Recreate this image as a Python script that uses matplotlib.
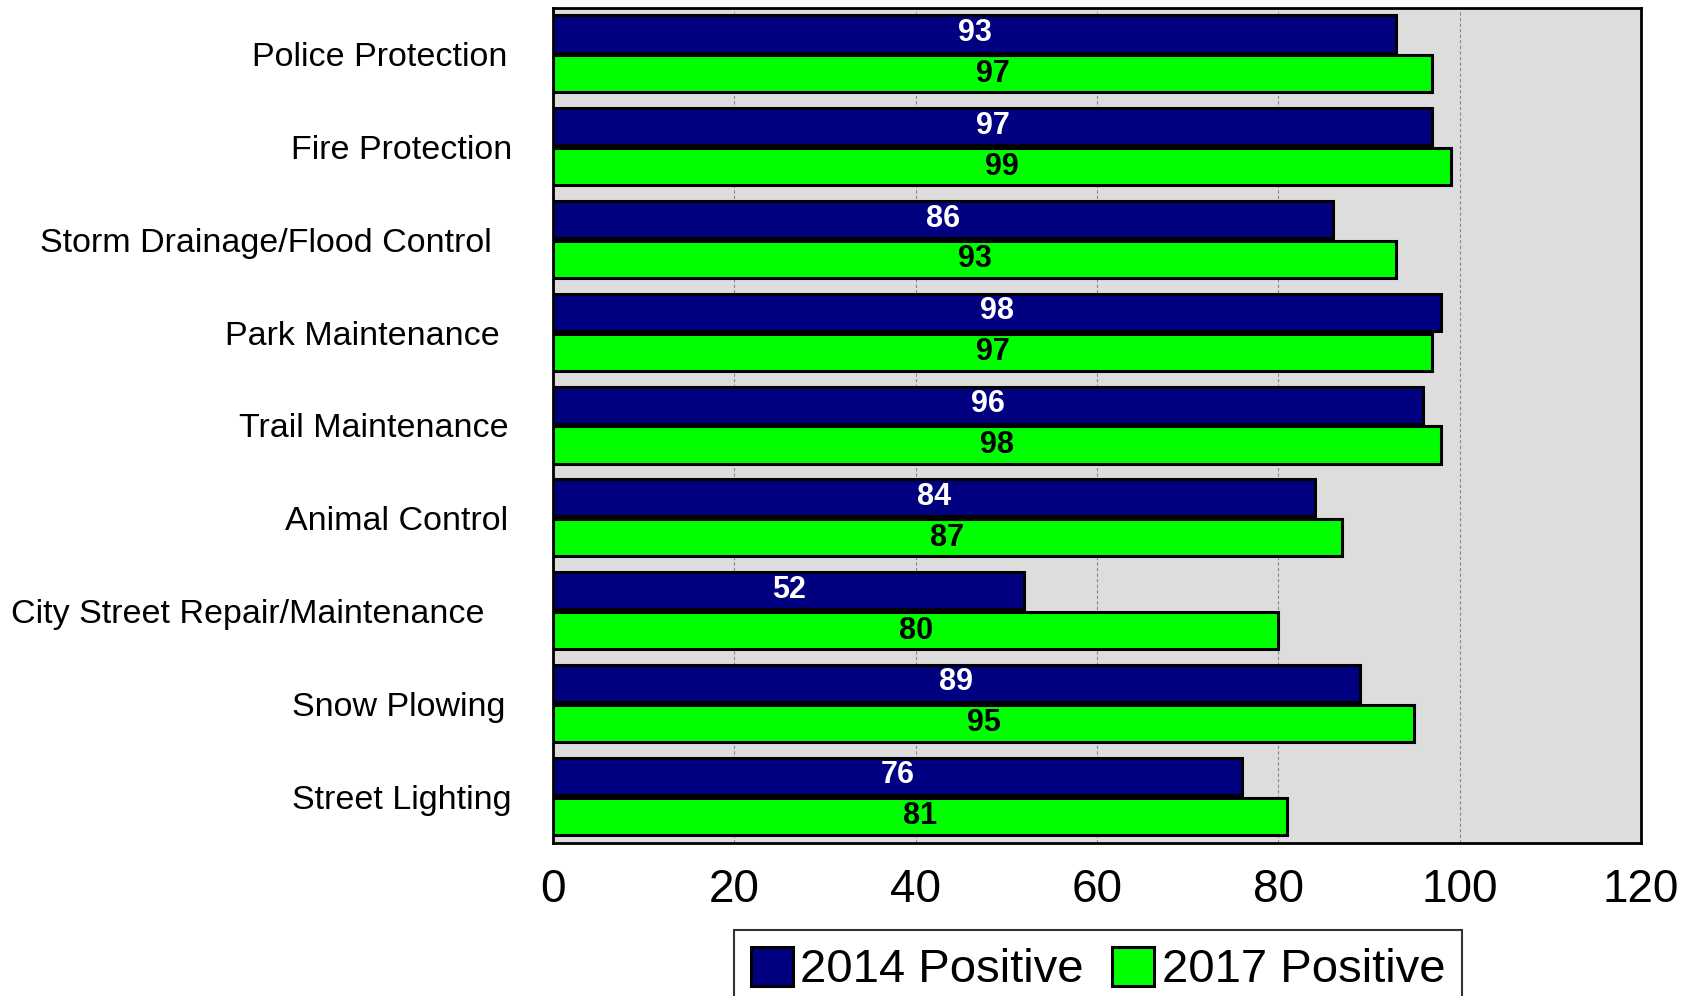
import matplotlib
matplotlib.use("Agg")
import matplotlib.pyplot as plt
import matplotlib.transforms as mtransforms
import numpy as np

categories = ["Police Protection", "Fire Protection", "Storm Drainage/Flood Control",
              "Park Maintenance", "Trail Maintenance", "Animal Control",
              "City Street Repair/Maintenance", "Snow Plowing", "Street Lighting"]
pos_2014 = [93, 97, 86, 98, 96, 84, 52, 89, 76]
pos_2017 = [97, 99, 93, 97, 98, 87, 80, 95, 81]
xticks = [0, 20, 40, 60, 80, 100, 120]
# the original labels are not quite right-aligned (points, +right)
label_shift = [1, 5, -10, -4, 2, 2, -15, 0, 4]

navy = "#000080"
green = "#00FF00"
font = ["Liberation Sans", "DejaVu Sans"]

fig = plt.figure(figsize=(17.01, 9.96), dpi=100)
ax = fig.add_axes([0.3251, 0.1536, 0.6396, 0.8384])
ax.set_facecolor("#DDDDDD")

y = np.arange(len(categories))
h = 0.40
b1 = ax.barh(y - 0.22, pos_2014, height=h, color=navy, edgecolor="black", linewidth=2.2, label="2014 Positive", zorder=3)
b2 = ax.barh(y + 0.21, pos_2017, height=h, color=green, edgecolor="black", linewidth=2.2, label="2017 Positive", zorder=3)

# value labels in the middle of each bar
for yy, v in zip(y, pos_2014):
    ax.text(v / 2, yy - 0.23, str(v), ha="center", va="center", color="white",
            fontsize=22, fontweight="bold", family=font, zorder=4)
for yy, v in zip(y, pos_2017):
    ax.text(v / 2, yy + 0.21, str(v), ha="center", va="center", color="black",
            fontsize=22, fontweight="bold", family=font, zorder=4)

ax.set_xlim(0, 120)
ax.set_ylim(len(categories) - 0.5, -0.5)
ax.set_xticks(xticks)
ax.set_xticklabels([str(t) for t in xticks], fontsize=33, family=font)
ax.set_yticks(y)
ax.set_yticklabels(categories, fontsize=24.5, family=font)
ax.tick_params(axis="both", length=0)
ax.tick_params(axis="x", pad=18)
ax.tick_params(axis="y", pad=34)
for lab, dx in zip(ax.get_yticklabels(), label_shift):
    lab.set_transform(lab.get_transform() + mtransforms.ScaledTranslation(dx / 72, 0, fig.dpi_scale_trans))
ax.grid(axis="x", color="#888888", linestyle=(0, (3, 2)), linewidth=0.8, zorder=0)
for s in ax.spines.values():
    s.set_linewidth(2)
    s.set_color("black")

leg = fig.legend(handles=[b1, b2], loc="upper left", bbox_to_anchor=(734 / 1701, 1 - 930 / 996),
                 borderaxespad=0, ncol=2, prop={"family": font, "size": 34}, frameon=True,
                 fancybox=False, edgecolor="black", handlelength=0.9, handleheight=0.9,
                 handletextpad=0.15, columnspacing=0.6, borderpad=0.35)
leg.get_frame().set_linewidth(1.5)

fig.savefig("out.png", dpi=100)
